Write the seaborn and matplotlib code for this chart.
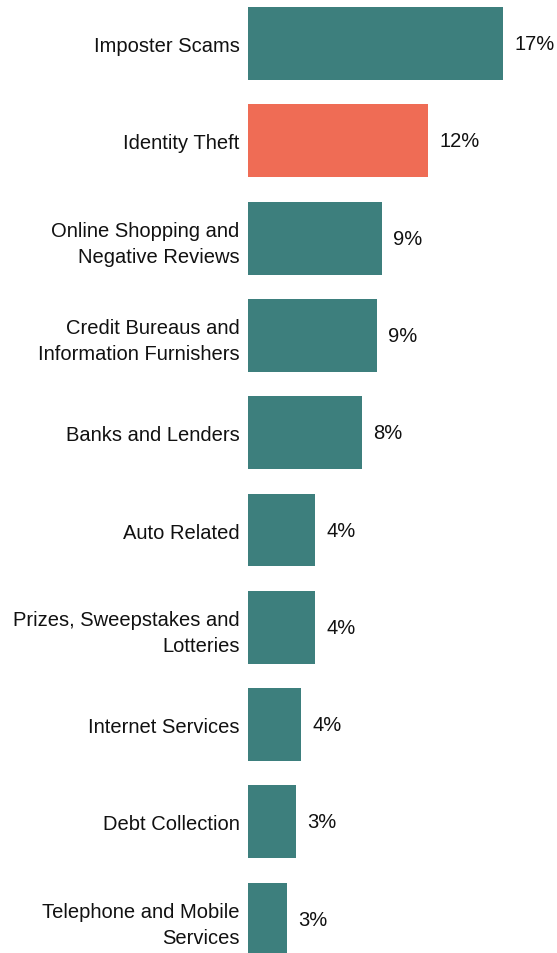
import matplotlib
matplotlib.use("Agg")
import matplotlib.pyplot as plt
import seaborn as sns
import pandas as pd

# categories and shares (%)
categories = [
    "Imposter Scams",
    "Identity Theft",
    "Online Shopping and\nNegative Reviews",
    "Credit Bureaus and\nInformation Furnishers",
    "Banks and Lenders",
    "Auto Related",
    "Prizes, Sweepstakes and\nLotteries",
    "Internet Services",
    "Debt Collection",
    "Telephone and Mobile\nServices",
]
values = [17.0, 12.0, 8.93, 8.6, 7.6, 4.47, 4.47, 3.53, 3.2, 2.6]
value_labels = ["17%", "12%", "9%", "9%", "8%", "4%", "4%", "4%", "3%", "3%"]
highlight = ["no", "yes", "no", "no", "no", "no", "no", "no", "no", "no"]

df = pd.DataFrame({"category": categories, "value": values, "highlight": highlight})

sns.set_style("white")
plt.rcParams["font.family"] = ["Liberation Sans", "DejaVu Sans"]

fig = plt.figure(figsize=(5.57, 9.54), dpi=100)
ax = fig.add_axes([248 / 557, 0, 1 - 248 / 557, 1])

sns.barplot(data=df, y="category", x="value", hue="highlight",
            palette={"no": "#3d7f7d", "yes": "#ef6c55"},
            width=0.75, dodge=False, legend=False, saturation=1,
            linewidth=0, ax=ax)

for cont in ax.containers:
    labs = []
    for p in cont.patches:
        i = int(round(p.get_y() + p.get_height() / 2))
        labs.append(value_labels[i] if p.get_width() > 0 else "")
    ax.bar_label(cont, labels=labs, padding=8, fontsize=14.5, color="#111111")

ax.set_xlim(0, 20.6)
ax.set_ylim(9.347, -0.457)
ax.set_xlabel("")
ax.set_ylabel("")
ax.set_xticks([])
ax.tick_params(axis="y", length=0, pad=6, labelsize=14.5, labelcolor="#111111")
for t in ax.get_yticklabels():
    t.set_linespacing(1.45)
sns.despine(ax=ax, left=True, bottom=True)

fig.savefig("out.png", dpi=100)
